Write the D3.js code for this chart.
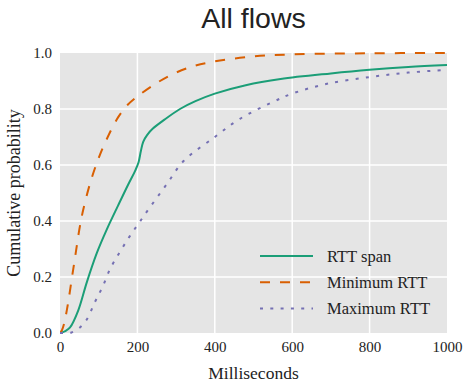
<!DOCTYPE html>
<html><head><meta charset="utf-8">
<script src="https://cdn.jsdelivr.net/npm/d3@7"></script>
<style>body{margin:0;background:#fff}</style>
</head><body>
<svg id="c" width="466" height="382"></svg>
<script>
const spanX = [0,15,26,47,69,95,121,150,175,195,203,209,215,225,240,270,310,350,400,480,570,700,800,900,1000];
const spanY = [0,0.008,0.02,0.08,0.18,0.285,0.37,0.455,0.527,0.582,0.61,0.65,0.683,0.707,0.73,0.762,0.80,0.828,0.855,0.885,0.907,0.927,0.94,0.95,0.957];
const minX = [0,5,10,20,30,40,50,60,80,100,120,150,175,200,250,300,350,400,500,600,800,1000];
const minY = [0,0.01,0.03,0.10,0.19,0.28,0.37,0.44,0.545,0.625,0.69,0.77,0.815,0.845,0.893,0.93,0.955,0.97,0.988,0.995,0.999,1.0];
const maxX = [0,20,30,50,70,90,110,130,155,180,205,233,275,320,400,465,550,600,690,800,900,1000];
const maxY = [0,0,0.002,0.018,0.05,0.11,0.165,0.23,0.29,0.345,0.395,0.45,0.53,0.615,0.70,0.765,0.825,0.855,0.89,0.914,0.93,0.94];
const seriesNames = ["RTT span","Minimum RTT","Maximum RTT"];
const xTicks = [0,200,400,600,800,1000];
const yTicks = [0,0.2,0.4,0.6,0.8,1.0];

const svg = d3.select("#c");
const L=60,R=447,T=53,B=333;
const x = d3.scaleLinear().domain([0,1000]).range([L,R]);
const y = d3.scaleLinear().domain([0,1]).range([B,T]);

svg.append("rect").attr("x",L).attr("y",T).attr("width",R-L).attr("height",B-T).attr("fill","#e5e5e5");
svg.append("g").selectAll("line").data(xTicks.slice(1,-1)).join("line")
  .attr("x1",d=>x(d)).attr("x2",d=>x(d)).attr("y1",T).attr("y2",B)
  .attr("stroke","#fff").attr("stroke-width",1.5);
svg.append("g").selectAll("line").data(yTicks.slice(1,-1)).join("line")
  .attr("y1",d=>y(d)).attr("y2",d=>y(d)).attr("x1",L).attr("x2",R)
  .attr("stroke","#fff").attr("stroke-width",1.5);

svg.append("defs").append("clipPath").attr("id","clip").append("rect")
  .attr("x",L).attr("y",T-3).attr("width",R-L).attr("height",B-T+4);

const line = d3.line().x(d=>x(d[0])).y(d=>y(d[1])).curve(d3.curveCatmullRom.alpha(0.5));
const series = [
  {name:seriesNames[0], xs:spanX, ys:spanY, color:"#1b9e77", dash:null},
  {name:seriesNames[1], xs:minX, ys:minY, color:"#d95f02", dash:"10,10"},
  {name:seriesNames[2], xs:maxX, ys:maxY, color:"#7570b3", dash:"3,7.3"}
];
const g = svg.append("g").attr("clip-path","url(#clip)");
series.forEach(s=>{
  g.append("path").datum(s.xs.map((v,i)=>[v,s.ys[i]]))
   .attr("d",line).attr("fill","none").attr("stroke",s.color)
   .attr("stroke-width",2).attr("stroke-dasharray",s.dash);
});

const xAxis = d3.axisBottom(x).tickValues(xTicks).tickSize(0).tickPadding(6).tickFormat(d3.format("d"));
const gx = svg.append("g").attr("transform",`translate(0,${B})`).call(xAxis);
gx.select(".domain").remove();
gx.selectAll("text").attr("font-family","Liberation Serif").attr("font-size",15).attr("fill","#222").attr("dy","0.85em");
const yAxis = d3.axisLeft(y).tickValues(yTicks).tickSize(0).tickPadding(8).tickFormat(d3.format(".1f"));
const gy = svg.append("g").attr("transform",`translate(${L},0)`).call(yAxis);
gy.select(".domain").remove();
gy.selectAll("text").attr("font-family","Liberation Serif").attr("font-size",15).attr("fill","#222");

svg.append("text").attr("x",(L+R)/2).attr("y",28).attr("text-anchor","middle")
  .attr("font-family","Liberation Sans, Arial, sans-serif").attr("font-size",28.5).attr("fill","#222").text("All flows");
svg.append("text").attr("x",(L+R)/2).attr("y",379).attr("text-anchor","middle")
  .attr("font-family","Liberation Serif").attr("font-size",17.5).attr("fill","#222").text("Milliseconds");
svg.append("text").attr("transform",`translate(20,${(T+B)/2}) rotate(-90)`).attr("text-anchor","middle")
  .attr("font-family","Liberation Serif").attr("font-size",18).attr("fill","#222").text("Cumulative probability");

const leg = svg.append("g");
series.forEach((s,i)=>{
  const yy = 256 + i*26.3;
  leg.append("line").attr("x1",260).attr("x2",313).attr("y1",yy).attr("y2",yy)
    .attr("stroke",s.color).attr("stroke-width",2).attr("stroke-dasharray",s.dash);
  leg.append("text").attr("x",327).attr("y",yy).attr("dy","0.35em")
    .attr("font-family","Liberation Serif").attr("font-size",16.5).attr("fill","#222").text(s.name);
});
</script>
</body></html>
